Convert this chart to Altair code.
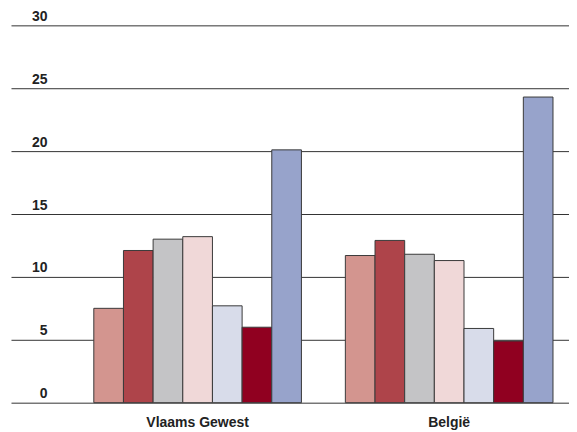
import altair as alt
import pandas as pd

regions = ["Vlaams Gewest", "België"]
series = ["s1", "s2", "s3", "s4", "s5", "s6", "s7"]
vlaams = [7.5, 12.1, 13.0, 13.2, 7.7, 6.0, 20.1]
belgie = [11.7, 12.9, 11.8, 11.3, 5.9, 4.9, 24.3]
colors = ["#D3958F", "#AE444A", "#C4C4C6", "#F0D8D8", "#D8DCEA", "#900020", "#97A3CB"]
y_ticks = [0, 5, 10, 15, 20, 25, 30]

rows = []
for reg, vals in zip(regions, [vlaams, belgie]):
    for s, v in zip(series, vals):
        rows.append({"region": reg, "series": s, "value": v})
df = pd.DataFrame(rows)

font = "Liberation Sans Narrow, Arial Narrow, Liberation Sans, sans-serif"

chart = alt.Chart(df).mark_bar(stroke="#3a3a3a", strokeWidth=1).encode(
    x=alt.X("region:N", sort=regions,
            scale=alt.Scale(paddingInner=0.1746, paddingOuter=0.1964, align=0.838),
            axis=alt.Axis(title=None, labelAngle=0, domain=False, ticks=False,
                          labelPadding=13, labelFont=font, labelFontSize=14,
                          labelFontWeight="bold", labelColor="#222")),
    xOffset=alt.XOffset("series:N", sort=series, scale=alt.Scale(paddingInner=0, paddingOuter=0)),
    y=alt.Y("value:Q", scale=alt.Scale(domain=[0, 30], nice=False),
            axis=alt.Axis(title=None, values=y_ticks, domain=False, ticks=False,
                          gridColor="#333", gridWidth=1, gridOpacity=1,
                          labelAlign="right", labelBaseline="bottom", labelPadding=-36,
                          labelOffset=-2, labelFont=font, labelFontSize=14,
                          labelFontWeight="bold", labelColor="#222")),
    color=alt.Color("series:N", sort=series,
                    scale=alt.Scale(domain=series, range=colors), legend=None),
).properties(
    width=559, height=378,
    padding={"left": 3, "top": 17, "right": 0, "bottom": 29},
    autosize=alt.AutoSizeParams(type="none"),
).configure_view(stroke=None)

chart.save("out.html", embed_options={"renderer": "svg", "actions": False})
